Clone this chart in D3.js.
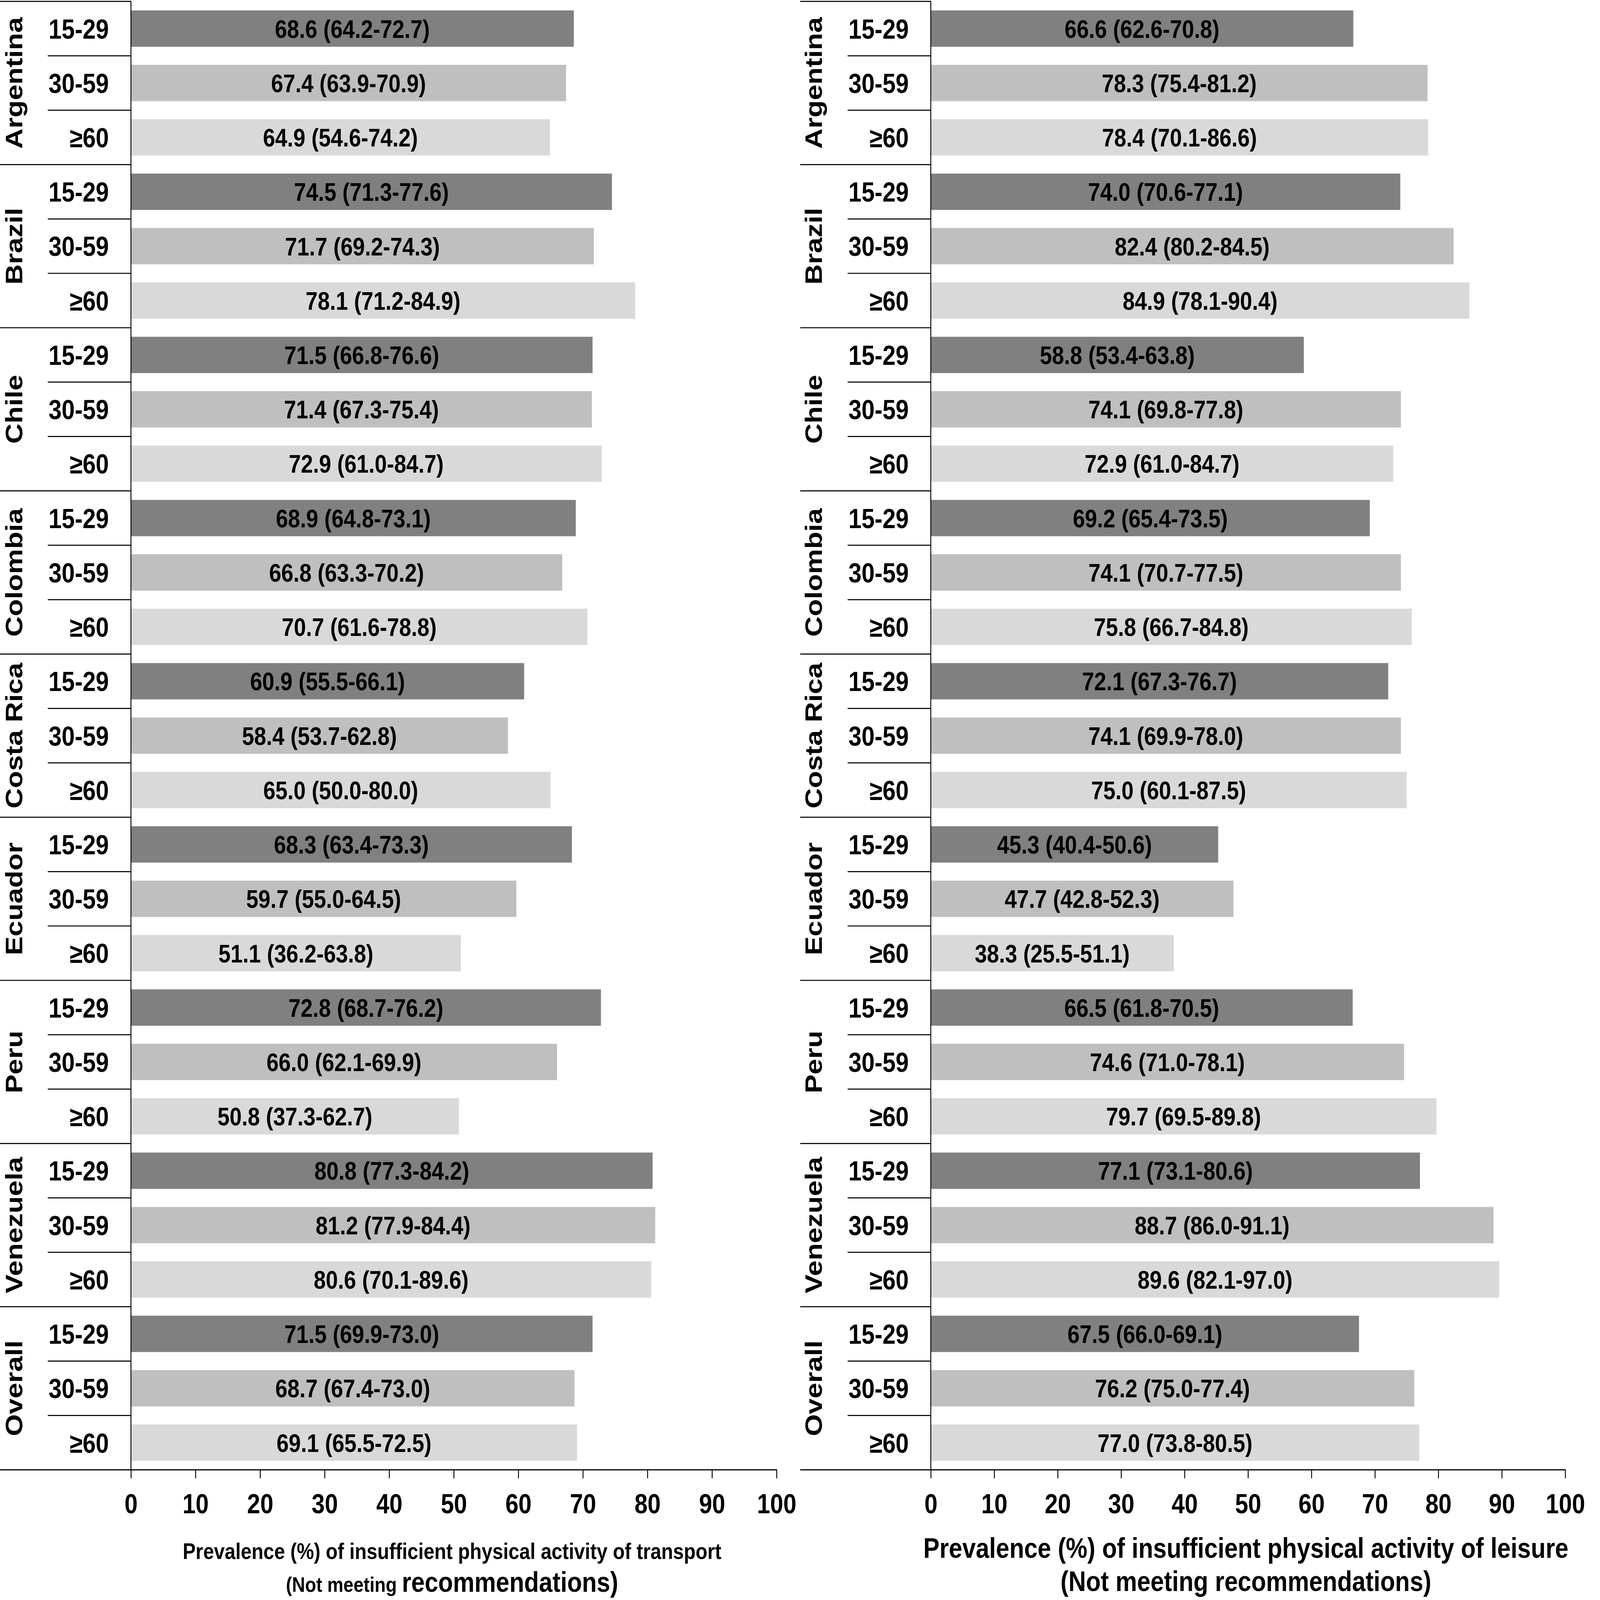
<!DOCTYPE html>
<html>
<head>
<meta charset="utf-8">
<script src="https://cdn.jsdelivr.net/npm/d3@7/dist/d3.min.js"></script>
<style>
  html, body { margin: 0; padding: 0; background: #fff; width: 100%; height: 100%; overflow: hidden; }
  svg { display: block; width: 100vw; height: 100vh; }
  text { font-family: "Liberation Sans", Arial, Helvetica, sans-serif; font-weight: bold; fill: #000; }
</style>
</head>
<body>
<svg id="chart" viewBox="0 0 5291 4536" preserveAspectRatio="none"></svg>
<script>
// ---------- DATA ----------
const countries = ["Argentina", "Brazil", "Chile", "Colombia", "Costa Rica", "Ecuador", "Peru", "Venezuela", "Overall"];
const ageGroups = ["15-29", "30-59", "≥60"];
const xTicks = [0, 10, 20, 30, 40, 50, 60, 70, 80, 90, 100];

// Transport (left panel): prevalence, lower CI, upper CI (country order, then age order)
const transportValue = [68.6, 67.4, 64.9, 74.5, 71.7, 78.1, 71.5, 71.4, 72.9, 68.9, 66.8, 70.7, 60.9, 58.4, 65.0, 68.3, 59.7, 51.1, 72.8, 66.0, 50.8, 80.8, 81.2, 80.6, 71.5, 68.7, 69.1];
const transportLow   = [64.2, 63.9, 54.6, 71.3, 69.2, 71.2, 66.8, 67.3, 61.0, 64.8, 63.3, 61.6, 55.5, 53.7, 50.0, 63.4, 55.0, 36.2, 68.7, 62.1, 37.3, 77.3, 77.9, 70.1, 69.9, 67.4, 65.5];
const transportHigh  = [72.7, 70.9, 74.2, 77.6, 74.3, 84.9, 76.6, 75.4, 84.7, 73.1, 70.2, 78.8, 66.1, 62.8, 80.0, 73.3, 64.5, 63.8, 76.2, 69.9, 62.7, 84.2, 84.4, 89.6, 73.0, 73.0, 72.5];

// Leisure (right panel)
const leisureValue = [66.6, 78.3, 78.4, 74.0, 82.4, 84.9, 58.8, 74.1, 72.9, 69.2, 74.1, 75.8, 72.1, 74.1, 75.0, 45.3, 47.7, 38.3, 66.5, 74.6, 79.7, 77.1, 88.7, 89.6, 67.5, 76.2, 77.0];
const leisureLow   = [62.6, 75.4, 70.1, 70.6, 80.2, 78.1, 53.4, 69.8, 61.0, 65.4, 70.7, 66.7, 67.3, 69.9, 60.1, 40.4, 42.8, 25.5, 61.8, 71.0, 69.5, 73.1, 86.0, 82.1, 66.0, 75.0, 73.8];
const leisureHigh  = [70.8, 81.2, 86.6, 77.1, 84.5, 90.4, 63.8, 77.8, 84.7, 73.5, 77.5, 84.8, 76.7, 78.0, 87.5, 50.6, 52.3, 51.1, 70.5, 78.1, 89.8, 80.6, 91.1, 97.0, 69.1, 77.4, 80.5];

const barColors = ["#808080", "#bfbfbf", "#d9d9d9"];

// ---------- BUILD ----------
const rows = [];
countries.forEach((c, ci) => ageGroups.forEach((a, ai) => rows.push({ key: c + "|" + a, country: c, age: a, ai: ai, idx: ci * 3 + ai })));

const svg = d3.select("#chart");

const yTop = 4, yBottom = 4167;
const y = d3.scaleBand()
  .domain(rows.map(r => r.key))
  .range([yTop, yBottom])
  .paddingInner(0.332)
  .paddingOuter(0.166);
const step = y.step();

function panel(opts) {
  const { x0, x100, frameLeft, values, lows, highs, title1, title2 } = opts;
  const g = svg.append("g");
  const x = d3.scaleLinear().domain([0, 100]).range([x0, x100]);

  // bars
  g.selectAll("rect.bar").data(rows).join("rect")
    .attr("class", "bar")
    .attr("x", x(0))
    .attr("y", d => y(d.key))
    .attr("width", d => x(values[d.idx]) - x(0))
    .attr("height", y.bandwidth())
    .attr("fill", d => barColors[d.ai]);

  // bar labels
  g.selectAll("text.val").data(rows).join("text")
    .attr("class", "val")
    .attr("x", d => (x(0) + x(values[d.idx])) / 2)
    .attr("y", d => y(d.key) + y.bandwidth() / 2)
    .attr("dy", "0.36em")
    .attr("text-anchor", "middle")
    .style("font-size", "72px")
    .text(d => `${values[d.idx].toFixed(1)} (${lows[d.idx].toFixed(1)}-${highs[d.idx].toFixed(1)})`);

  // age labels
  g.selectAll("text.age").data(rows).join("text")
    .attr("class", "age")
    .attr("x", x0 - 73)
    .attr("y", d => y(d.key) + y.bandwidth() / 2)
    .attr("dy", "0.36em")
    .attr("text-anchor", "end")
    .style("font-size", "78px")
    .text(d => d.age);

  // separators between age rows inside a group
  const subSeps = rows.filter(d => d.ai > 0);
  g.selectAll("line.sub").data(subSeps).join("line")
    .attr("class", "sub")
    .attr("x1", x0 - 275).attr("x2", x0)
    .attr("y1", d => y(d.key) - step * y.paddingInner() / 2)
    .attr("y2", d => y(d.key) - step * y.paddingInner() / 2)
    .attr("stroke", "#000").attr("stroke-width", 3);

  // group separators (top of each group)
  const groupTops = rows.filter(d => d.ai === 0);
  g.selectAll("line.grp").data(groupTops).join("line")
    .attr("class", "grp")
    .attr("x1", frameLeft).attr("x2", x0)
    .attr("y1", d => y(d.key) - step * y.paddingInner() / 2)
    .attr("y2", d => y(d.key) - step * y.paddingInner() / 2)
    .attr("stroke", "#000").attr("stroke-width", 3);

  // country labels
  g.selectAll("text.country").data(countries).join("text")
    .attr("class", "country")
    .attr("transform", (c) => {
      const first = y(c + "|" + ageGroups[0]) - step * y.paddingInner() / 2;
      const cy = first + step * 1.5;
      return `translate(${x0 - 360},${cy}) rotate(-90)`;
    })
    .attr("text-anchor", "middle")
    .style("font-size", "80px")
    .text(c => c);

  // vertical axis line
  g.append("line")
    .attr("x1", x0).attr("x2", x0)
    .attr("y1", yTop - 1.5).attr("y2", yBottom)
    .attr("stroke", "#000").attr("stroke-width", 3);

  // x axis
  const axis = d3.axisBottom(x).tickValues(xTicks).tickSize(24).tickSizeOuter(0).tickFormat(d3.format("d"));
  const ag = g.append("g").attr("transform", `translate(0,${yBottom})`).call(axis);
  ag.select(".domain").remove();
  ag.selectAll(".tick line").attr("stroke", "#000").attr("stroke-width", 3);
  ag.selectAll(".tick text")
    .attr("y", 95).attr("dy", "0.36em")
    .attr("fill", "#000")
    .style("font-size", "78px")
    .style("font-family", "'Liberation Sans', Arial, sans-serif")
    .style("font-weight", "bold");
  g.append("line")
    .attr("x1", frameLeft).attr("x2", x100 + 1.5)
    .attr("y1", yBottom).attr("y2", yBottom)
    .attr("stroke", "#000").attr("stroke-width", 3.5);

  // titles
  const cx = opts.titleCx;
  g.append("text")
    .attr("x", cx).attr("y", opts.t1y)
    .attr("text-anchor", "middle")
    .style("font-size", opts.t1size + "px")
    .text(title1);
  const t2 = g.append("text")
    .attr("x", cx).attr("y", opts.t2y)
    .attr("text-anchor", "middle");
  title2.forEach(p => t2.append("tspan").style("font-size", p.size + "px").text(p.text));
}

panel({
  x0: 433, x100: 2568, frameLeft: 0,
  values: transportValue, lows: transportLow, highs: transportHigh,
  titleCx: 1495, t1y: 4420, t1size: 64, t2y: 4513,
  title1: "Prevalence (%) of insufficient physical activity of transport",
  title2: [{ text: "(Not meeting ", size: 60 }, { text: "recommendations)", size: 80 }]
});

panel({
  x0: 3078, x100: 5176, frameLeft: 2646,
  values: leisureValue, lows: leisureLow, highs: leisureHigh,
  titleCx: 4120, t1y: 4416, t1size: 80, t2y: 4510,
  title1: "Prevalence (%) of insufficient physical activity of leisure",
  title2: [{ text: "(Not meeting recommendations)", size: 80 }]
});
</script>
</body>
</html>
